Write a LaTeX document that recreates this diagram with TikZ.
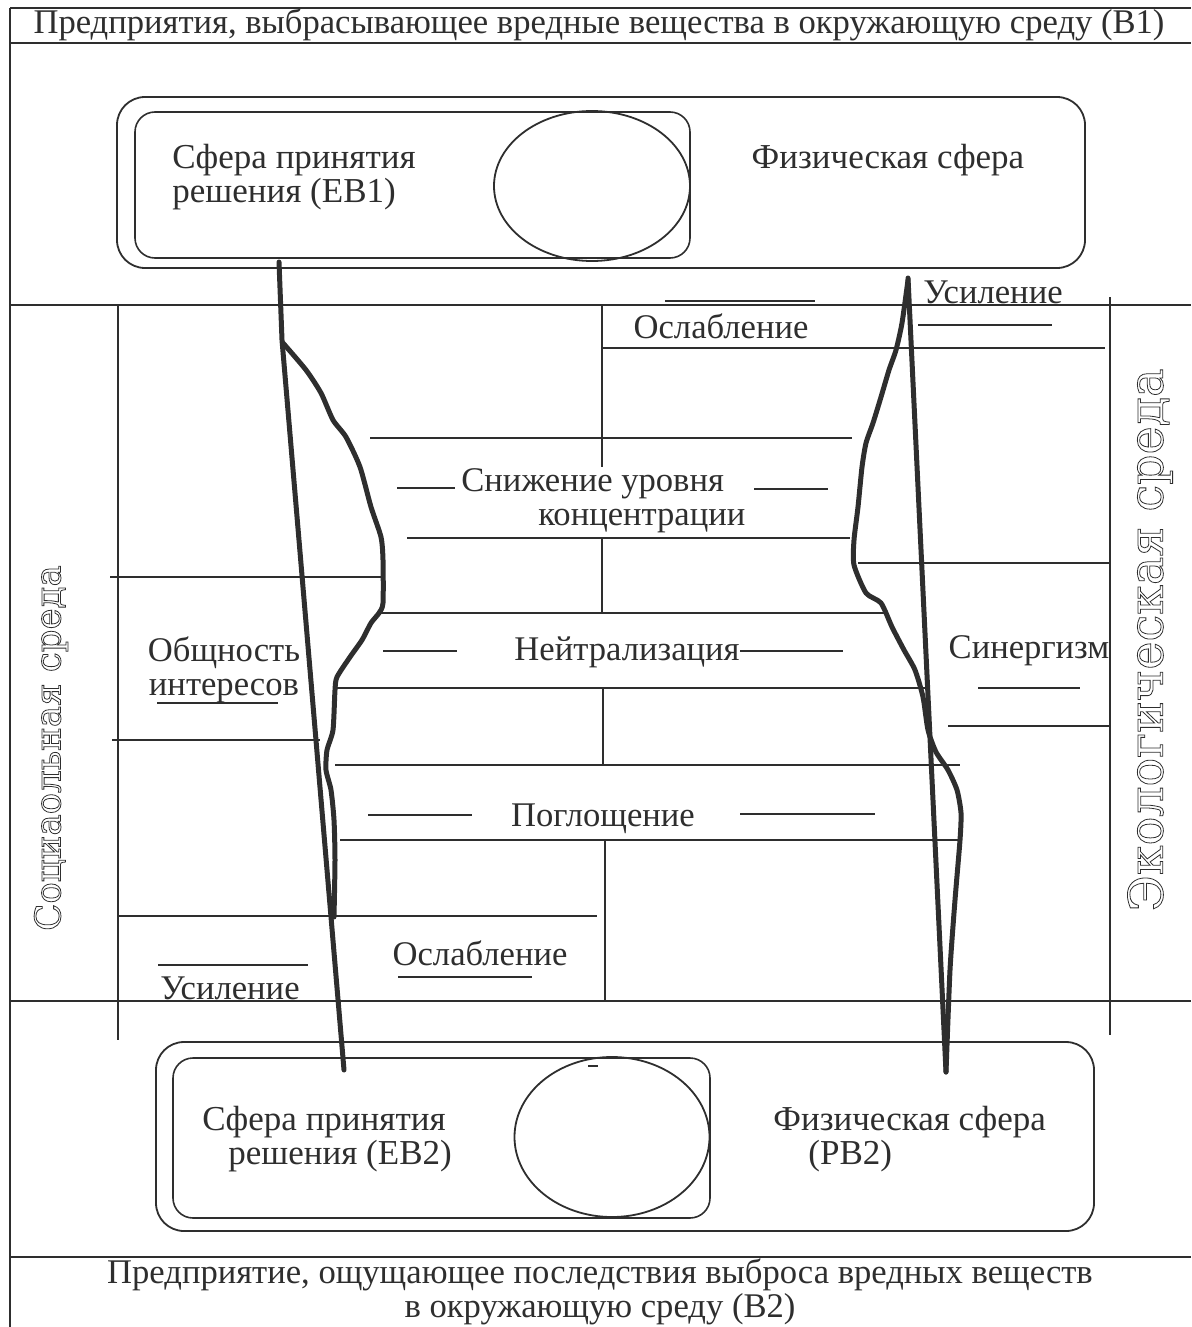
\documentclass[tikz,border=0pt]{standalone}
\usepackage{fontspec}
\setmainfont{Liberation Serif}
\newfontfamily\seriflarga{DejaVu Serif}
\usepackage{tikz}
\usetikzlibrary{shapes.geometric}
\definecolor{inchiostro}{gray}{0.18}
\tikzstyle{cornice} = [rectangle,rounded corners=14pt,draw=inchiostro,line width=0.9pt]
\tikzstyle{cornicepiccola} = [rectangle,rounded corners=10pt,draw=inchiostro,line width=0.8pt]
\tikzstyle{ovale} = [ellipse,draw=inchiostro,line width=0.9pt,inner sep=0pt]
\tikzstyle{etichetta} = [inner sep=0pt,text=inchiostro]
\tikzstyle{etichettasfera} = [inner sep=0pt,text=inchiostro,font=\fontsize{17.5}{17}\selectfont,align=left]
\tikzstyle{verticale} = [inner sep=0pt,rotate=90,text=inchiostro]
\tikzstyle{filo} = [inchiostro,line width=0.75pt]
\tikzstyle{traccia} = [inchiostro,line width=2.5pt,line join=round,line cap=round]
\newcommand{\profilo}[1]{\special{pdf:literal direct 1 Tr}#1\special{pdf:literal direct 0 Tr}}

\begin{document}
\begin{tikzpicture}[x=0.5pt,y=-0.5pt]
\tikzstyle{every node}=[font=\fontsize{17.3}{17}\selectfont]
\useasboundingbox (0,0) rectangle (1191,1327);

% impresa B1
\node (titolo1) [etichetta] at (599,25) {Предприятия, выбрасывающее вредные вещества в окружающую среду (В1)};
\node (est1) [cornice,minimum width=484pt,minimum height=85.5pt] at (601,182.5) {};
\node (int1) [cornicepiccola,minimum width=277.5pt,minimum height=73pt] at (412.5,185) {};
\node (ov1)  [ovale,minimum width=98pt,minimum height=75pt] at (592,186) {};
\node (eb1)  [etichettasfera,anchor=west] at (172,177) {Сфера принятия\\решения (ЕВ1)};
\node (fis1) [etichettasfera] at (888,160) {Физическая сфера};

% impresa B2
\node (est2) [cornice,minimum width=469pt,minimum height=94.5pt] at (625,1136.5) {};
\node (int2) [cornicepiccola,minimum width=268.5pt,minimum height=80pt] at (441.5,1138) {};
\node (ov2)  [ovale,minimum width=97.5pt,minimum height=80pt] at (612,1137) {};
\node (eb2)  [etichettasfera,anchor=west] at (202,1139) {Сфера принятия\\\hspace*{13pt}решения (ЕВ2)};
\node (fis2) [etichettasfera,anchor=west] at (773,1139) {Физическая сфера\\\hspace*{17.5pt}(РВ2)};
\node (titolo2) [etichetta,align=center] at (600,1292) {Предприятие, ощущающее последствия выброса вредных веществ\\в окружающую среду (В2)};

% etichette della zona centrale
\node (usil1) [etichetta] at (993,292) {Усиление};
\node (oslab1) [etichetta] at (721,326) {Ослабление};
\node (snizh) [etichetta,align=left,anchor=west] at (461,501) {Снижение уровня\\\hspace*{38.5pt}концентрации};
\node (neitr) [etichetta] at (627,652) {Нейтрализация};
\node (obshch) [etichetta,align=center] at (224,670) {Общность\\интересов};
\node (siner) [etichetta] at (1029,651) {Синергизм};
\node (pogl) [etichetta] at (603,819) {Поглощение};
\node (oslab2) [etichetta] at (480,953) {Ослабление};
\node (usil2) [etichetta] at (230,988) {Усиление};

% cornice
\draw[filo] (10,8) -- (1191,8);
\draw[filo] (10,43) -- (1191,43);
\draw[filo] (10,8) -- (10,1327);
\draw[filo] (10,305) -- (1191,305);
\draw[filo] (10,1001) -- (1191,1001);
\draw[filo] (10,1257) -- (1191,1257);
\draw[filo] (118,305) -- (118,1040);
\draw[filo] (1110,297) -- (1110,1035);

\draw[filo] (602,305) -- (602,467);
\draw[filo] (602,538) -- (602,613);
\draw[filo] (603,688) -- (603,765);
\draw[filo] (605,840) -- (605,1001);

\draw[filo] (602,348) -- (1105,348);
\draw[filo] (370,438) -- (852,438);
\draw[filo] (407,538) -- (850,538);
\draw[filo] (110,577) -- (382,577);
\draw[filo] (858,563) -- (1110,563);
\draw[filo] (380,613) -- (888,613);
\draw[filo] (337,688) -- (925,688);
\draw[filo] (948,726) -- (1110,726);
\draw[filo] (112,740) -- (320,740);
\draw[filo] (335,765) -- (960,765);
\draw[filo] (340,840) -- (960,840);
\draw[filo] (118,916) -- (597,916);

% trattini
\draw[filo] (665,301) -- (815,301);
\draw[filo] (918,325) -- (1052,325);
\draw[filo] (397,488) -- (455,488);
\draw[filo] (754,489) -- (828,489);
\draw[filo] (383,651) -- (457,651);
\draw[filo] (740,651) -- (843,651);
\draw[filo] (157,703) -- (278,703);
\draw[filo] (978,688) -- (1080,688);
\draw[filo] (368,815) -- (472,815);
\draw[filo] (740,814) -- (875,814);
\draw[filo] (398,977) -- (532,977);
\draw[filo] (158,965) -- (308,965);
\draw[filo] (588,1066) -- (598,1066);

% tracce
\draw[traccia] (279,262) -- (282,340) -- (344,1070);
\draw[traccia] plot[smooth,tension=0.4] coordinates {(283,343) (306,370) (321,393) (333,420) (346,437) (360,467) (371,507) (381,537) (383,560) (383,603) (379,613) (371,623) (362,640) (350,657) (337,677) (335,690) (333,730) (327,750) (326,770) (331,790) (334,820) (335,860) (334,917)};
\draw[traccia] (908,278) -- (946,1072);
\draw[traccia] plot[smooth,tension=0.4] coordinates {(908,280) (902,323) (896,350) (889,370) (881,397) (873,423) (866,443) (862,467) (858,507) (854,540) (854,565) (866,593) (881,603) (892,627) (904,650) (915,670) (923,697) (928,730) (936,752) (948,770) (957,790) (961,813) (960,840) (955,900) (950,970) (946,1072)};

% ambienti
\node (sociale) [verticale,font=\seriflarga\fontsize{17.8}{18}\selectfont] at (51,748) {\profilo{Социаольная среда}};
\node (ecolog) [verticale,font=\seriflarga\fontsize{23.8}{24}\selectfont] at (1150,640) {\profilo{Экологическая среда}};
\end{tikzpicture}
\end{document}
